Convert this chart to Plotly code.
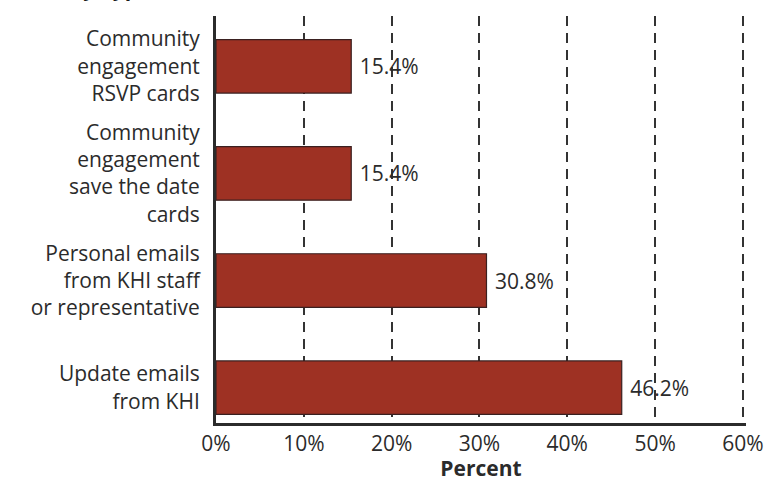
import plotly.graph_objects as go

# DATA
categories = [
    "Update emails<br>from KHI",
    "Personal emails<br>from KHI staff<br>or representative",
    "Community<br>engagement<br>save the date<br>cards",
    "Community<br>engagement<br>RSVP cards",
]
values = [46.2, 30.8, 15.4, 15.4]
value_labels = ["46.2%", "30.8%", "15.4%", "15.4%"]
x_ticks = [0, 10, 20, 30, 40, 50, 60]

FONT = "Open Sans"
INK = "#2b2b2b"
BAR = "#9e3123"
FS = 21

fig = go.Figure()
fig.add_trace(go.Bar(
    x=values,
    y=list(range(len(categories))),
    orientation="h",
    width=0.5,
    marker=dict(color=BAR, line=dict(color="#3a2020", width=1.2)),
    text=value_labels,
    texttemplate=" %{text}",
    textposition="outside",
    textfont=dict(family=FONT, size=FS, color=INK),
    cliponaxis=False,
))

fig.update_layout(
    template="none",
    width=767, height=482,
    margin=dict(l=216, r=21, t=16, b=59),
    paper_bgcolor="white", plot_bgcolor="white",
    showlegend=False,
    font=dict(family=FONT, size=FS, color=INK),
    xaxis=dict(
        range=[0, 60.35],
        tickvals=x_ticks,
        ticktext=[f"{t}%" for t in x_ticks],
        showgrid=True, gridcolor="#333333", gridwidth=1.5, griddash="10px,7px",
        zeroline=False, automargin=False,
        showline=True, linecolor=INK, linewidth=3,
        ticks="", ticklen=0,
        tickfont=dict(family=FONT, size=FS, color=INK),
        title=dict(text="<b>Percent</b>", font=dict(family=FONT, size=FS, color=INK), standoff=0),
    ),
    yaxis=dict(
        range=[-0.33, 3.47],
        tickvals=list(range(len(categories))),
        ticktext=categories,
        showgrid=False, zeroline=False, automargin=False,
        showline=True, linecolor=INK, linewidth=3,
        ticks="", ticklen=0, ticklabelstandoff=9,
        tickfont=dict(family=FONT, size=FS, color=INK),
    ),
    annotations=[dict(
        text="<b>by Type</b>", xref="paper", yref="paper",
        x=-0.28, y=1.069, xanchor="left", yanchor="middle",
        showarrow=False, font=dict(family=FONT, size=FS, color="#1a1a1a"),
    )],
)

fig.write_html("out.html", config={"displayModeBar": False},
               post_script="document.body.style.margin='0';")
